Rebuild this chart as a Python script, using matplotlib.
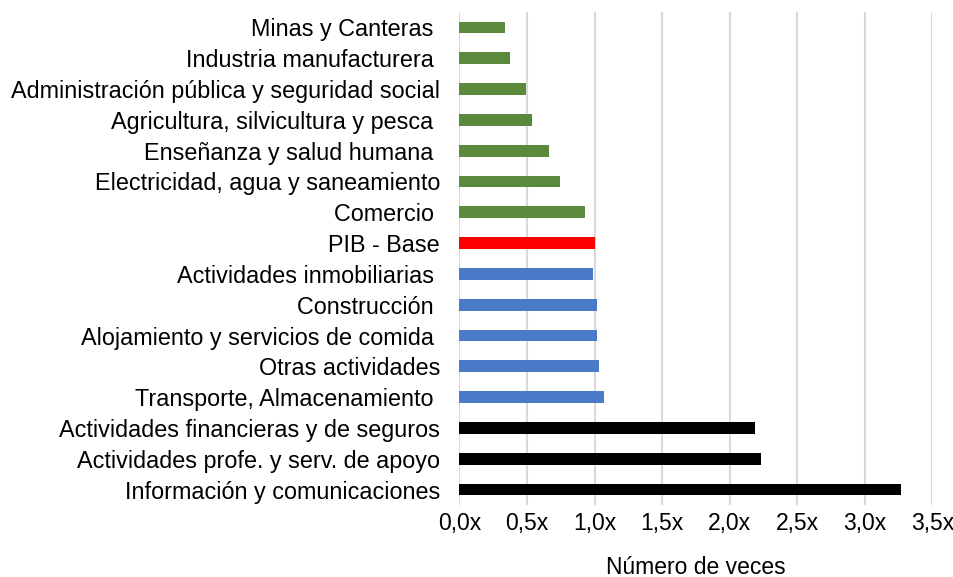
import matplotlib
matplotlib.use("Agg")
import matplotlib.pyplot as plt

categories = [
    "Minas y Canteras ",
    "Industria manufacturera ",
    "Administración pública y seguridad social",
    "Agricultura, silvicultura y pesca ",
    "Enseñanza y salud humana ",
    "Electricidad, agua y saneamiento",
    "Comercio ",
    "PIB - Base",
    "Actividades inmobiliarias ",
    "Construcción ",
    "Alojamiento y servicios de comida ",
    "Otras actividades",
    "Transporte, Almacenamiento ",
    "Actividades financieras y de seguros",
    "Actividades profe. y serv. de apoyo",
    "Información y comunicaciones",
]
values = [0.34, 0.37, 0.49, 0.54, 0.66, 0.74, 0.93, 1.00,
          0.99, 1.02, 1.02, 1.03, 1.07, 2.19, 2.23, 3.27]
groups = ["low"] * 7 + ["base"] + ["mid"] * 5 + ["high"] * 3
group_colors = {"low": "#5B8A3C", "base": "#FF0000", "mid": "#4A7BC8", "high": "#000000"}
xticks = [0.0, 0.5, 1.0, 1.5, 2.0, 2.5, 3.0, 3.5]
xticklabels = ["0,0x", "0,5x", "1,0x", "1,5x", "2,0x", "2,5x", "3,0x", "3,5x"]
xlabel = "Número de veces"

plt.rcParams["font.family"] = ["Liberation Sans", "DejaVu Sans"]
fig = plt.figure(figsize=(9.54, 5.77), dpi=100)
ax = fig.add_axes([459.5 / 954, 1 - 505 / 577, 473 / 954, (505 - 12) / 577])

ypos = list(range(len(categories)))
ax.barh(ypos, values, height=0.38, color=[group_colors[g] for g in groups], zorder=3)
ax.set_ylim(len(categories) - 0.5, -0.5)
ax.set_xlim(0, 3.5)
ax.set_yticks(ypos)
ax.set_yticklabels(categories, fontsize=16.8, color="#000000")
ax.set_xticks(xticks)
ax.set_xticklabels(xticklabels, fontsize=16.5, color="#000000")
ax.tick_params(axis="y", length=0, pad=14)
ax.tick_params(axis="x", length=0, pad=5)
ax.set_xlabel(xlabel, fontsize=16.5, labelpad=15)
ax.grid(axis="x", color="#D9D9D9", linewidth=1.5, zorder=0)
for s in ax.spines.values():
    s.set_visible(False)

fig.savefig("out.png", dpi=100)
